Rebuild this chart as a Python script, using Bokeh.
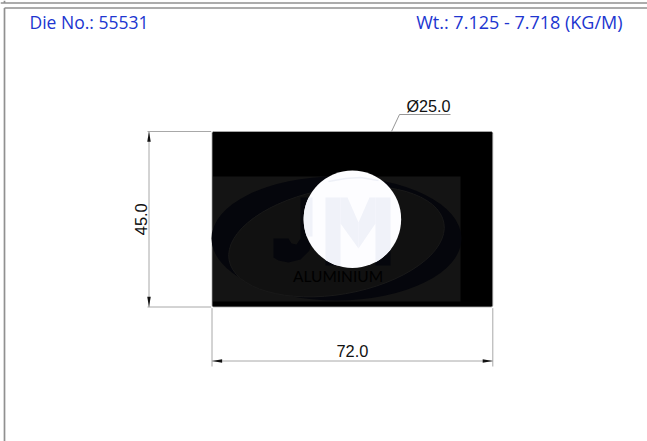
import numpy as np
from bokeh.plotting import figure
from bokeh.models import Range1d
from bokeh.core.properties import value
from bokeh.embed import file_html
from bokeh.resources import INLINE

# Drawing values (mm)
profile_width = 72.0
profile_height = 45.0
hole_diameter = 25.0
die_label = "Die No.: 55531"
weight_label = "Wt.: 7.125 - 7.718 (KG/M)"
width_label = "72.0"
height_label = "45.0"
dia_label = "Ø25.0"

W, H = 647, 441
S = 3.9               # px per mm
OX, OY = 211.5, 306.5 # page px of the profile's lower left corner


def X(px):
    return (np.asarray(px, dtype=float) - OX) / S


def Y(px):
    return (OY - np.asarray(px, dtype=float)) / S


p = figure(width=W, height=H, output_backend="svg", toolbar_location=None,
           x_range=Range1d(X(0), X(W)), y_range=Range1d(Y(H), Y(0)),
           min_border=0, margin=0)
p.axis.visible = False
p.grid.visible = False
p.outline_line_color = None
p.background_fill_color = "white"

GRAY = "#9a9a9a"
DIM = "#a8a8a8"


def line(xs, ys, color=GRAY, w=1.0):
    p.line(list(X(xs)), list(Y(ys)), line_color=color, line_width=w)


# Page frame
FRAME = "#909090"
line([0, W], [2.5, 2.5], FRAME, 1.7)
line([4, W], [7.5, 7.5], FRAME, 1.7)
line([4, 4], [0, 2.5], FRAME, 1.7)
line([4, 4], [7.5, H], FRAME, 1.7)

# Profile with small rounded corners
r = 0.5
t = np.linspace(0, np.pi / 2, 6)
cx = np.concatenate([profile_width - r + r * np.cos(t),
                     r - r * np.sin(t),
                     r - r * np.cos(t),
                     profile_width - r + r * np.sin(t)])
cy = np.concatenate([profile_height - r + r * np.sin(t),
                     profile_height - r + r * np.cos(t),
                     r - r * np.sin(t),
                     r - r * np.cos(t)])
p.patch(list(cx), list(cy), fill_color="black", line_color="#b0b0b0", line_width=0.8)

# Watermark on the profile
p.quad(left=[float(X(212.5))], right=[float(X(460))], bottom=[float(Y(301))], top=[float(Y(176))],
       fill_color="#141414", line_color=None)
DARK = "#05060c"
p.ellipse(x=[float(X(336))], y=[float(Y(238))], width=[250 / S], height=[124 / S],
          angle=[0.0], fill_color=DARK, line_color=None)
p.ellipse(x=[float(X(336))], y=[float(Y(241))], width=[218 / S], height=[106 / S],
          angle=[0.17], fill_color="#111111", line_color="#191919", line_width=1.0)

M_PARTS = [
    [(325, 197), (340, 197), (340, 265), (325, 265)],
    [(375, 197), (390, 197), (390, 265), (375, 265)],
    [(340, 197), (347, 197), (358, 222), (358, 248), (340, 223)],
    [(358, 222), (369, 197), (375, 197), (375, 223), (358, 248)],
]
J_STEM = [(300, 197), (312, 197), (312, 236), (300, 236)]
J_FULL = [(300, 197), (312, 197), (312, 236), (309, 250), (300, 259), (288, 262),
          (278, 260), (273, 257), (273, 238), (288, 238), (291, 243), (296, 244), (300, 238)]

for part in M_PARTS + [J_FULL]:
    xs, ys = zip(*part)
    p.patch(list(X(xs)), list(Y(ys)), fill_color=DARK, line_color=None)

p.text(x=[float(X(337.5))], y=[float(Y(275))], text=["ALUMINIUM"], text_align="center",
       text_baseline="middle", text_color="#000000", text_font=value("Lato"),
       text_font_size="15.5px")

# Hole
hx, hy = profile_width / 2, profile_height / 2
p.circle(x=[hx], y=[hy], radius=hole_diameter / 2, fill_color="#fdfdff", line_color=None)


# Faint watermark seen through the hole, clipped to the circle
def clip(poly):
    a = np.linspace(0, 2 * np.pi, 97)[:-1]
    R = hole_diameter / 2
    out = poly
    for ang in a:
        n = np.array([np.cos(ang), np.sin(ang)])
        d = lambda q: np.dot(np.array(q) - (hx, hy), n) - R
        new = []
        for i in range(len(out)):
            c, e = out[i], out[(i + 1) % len(out)]
            dc, de = d(c), d(e)
            if dc <= 0:
                new.append(c)
            if dc * de < 0:
                s = dc / (dc - de)
                new.append((c[0] + s * (e[0] - c[0]), c[1] + s * (e[1] - c[1])))
        out = new
        if not out:
            break
    return out


for part in M_PARTS + [J_STEM]:
    poly = clip([(float(X(a)), float(Y(b))) for a, b in part])
    if poly:
        xs, ys = zip(*poly)
        p.patch(list(xs), list(ys), fill_color="#f0f2f9", line_color=None)

line([328, 345, 360, 378], [181, 178, 177, 180], "#eef0f7", 1.5)

# Dimension lines
ah_l, ah_w = 2.6, 0.45
dim_x = X(148.5)
dim_y = Y(360.5)
p.line([float(X(147)), -0.2], [profile_height, profile_height], line_color=DIM)
p.line([float(X(147)), -0.2], [0, 0], line_color=DIM)
p.line([dim_x, dim_x], [0, profile_height], line_color=DIM)
p.line([0, 0], [-0.3, float(Y(366))], line_color=DIM)
p.line([profile_width, profile_width], [-0.3, float(Y(366))], line_color=DIM)
p.line([0, profile_width], [dim_y, dim_y], line_color=DIM)
p.patches(
    [[dim_x, dim_x - ah_w, dim_x + ah_w], [dim_x, dim_x - ah_w, dim_x + ah_w],
     [0, ah_l, ah_l], [profile_width, profile_width - ah_l, profile_width - ah_l]],
    [[profile_height, profile_height - ah_l, profile_height - ah_l], [0, ah_l, ah_l],
     [dim_y, dim_y + ah_w, dim_y - ah_w], [dim_y, dim_y + ah_w, dim_y - ah_w]],
    fill_color="#111111", line_color=None)

# Leader of the hole diameter
line([391, 399, 450], [131, 114, 114], "#8a8a8a", 0.9)

TXT = "#111111"
p.text(x=[float(X(428))], y=[float(Y(105))], text=[dia_label], text_align="center", text_baseline="middle",
       text_color=TXT, text_font=value("Liberation Sans"), text_font_size="16.2px")
p.text(x=[profile_width / 2], y=[float(Y(350))], text=[width_label], text_align="center", text_baseline="middle",
       text_color=TXT, text_font=value("Liberation Sans"), text_font_size="16.4px")
p.text(x=[float(X(140.5))], y=[profile_height / 2], text=[height_label], text_align="center", text_baseline="middle",
       angle=[np.pi / 2], text_color=TXT, text_font=value("Liberation Sans"), text_font_size="16.4px")

BLUE = "#2035d0"
p.text(x=[float(X(29))], y=[float(Y(21))], text=[die_label], text_align="left", text_baseline="middle",
       text_color=BLUE, text_font=value("Open Sans"), text_font_size="17.5px")
p.text(x=[float(X(622))], y=[float(Y(21))], text=[weight_label], text_align="right", text_baseline="middle",
       text_color=BLUE, text_font=value("Open Sans"), text_font_size="18px")

open("out.html", "w").write(file_html(p, INLINE))
